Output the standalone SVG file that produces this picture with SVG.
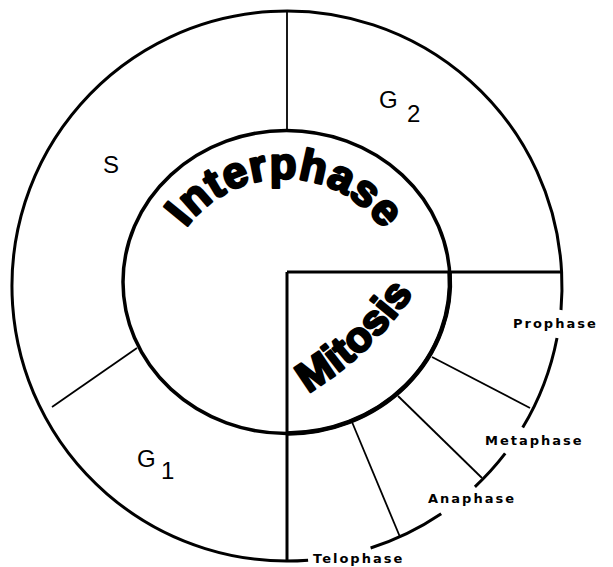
<svg xmlns="http://www.w3.org/2000/svg" width="613" height="567" viewBox="0 0 613 567">
  <style>
    .ring { fill: none; stroke: #000; stroke-width: 3; }
    .inner { fill: none; stroke: #000; stroke-width: 3.5; }
    .innerM { fill: none; stroke: #000; stroke-width: 4.5; }
    .div { stroke: #000; stroke-width: 1.8; fill: none; }
    .axis { stroke: #000; stroke-width: 3; fill: none; }
    .phase { font-family: "Liberation Sans", Arial, sans-serif; font-size: 24px; fill: #000; }
    .step { font-family: "DejaVu Sans", Verdana, sans-serif; font-weight: bold; font-size: 13px; letter-spacing: 2px; fill: #000; }
    .big { font-family: "Liberation Sans", Arial, sans-serif; font-weight: bold; fill: #000; stroke: #000; stroke-width: 2.5; stroke-linejoin: round; }
  </style>
  <defs>
    <path id="interPath" d="M 186 228 A 122 122 0 0 1 385 232"/>
    <path id="mitoPath" d="M 308 393 A 340 340 0 0 0 415 291"/>
  </defs>
  <rect width="613" height="567" fill="#fff"/>

  <g id="rings">
    <path class="ring" d="M 561.6 272 A 275 275 0 1 0 308.1 560.2"/>
    <path class="ring" d="M 561.6 272 A 275 275 0 0 1 561 310"/>
    <path class="ring" d="M 557 338 A 275 275 0 0 1 522.7 427.6"/>
    <path class="ring" d="M 505.2 453.4 A 275 275 0 0 1 474.9 486.8"/>
    <path class="ring" d="M 441.2 513.8 A 275 275 0 0 1 370.6 548"/>
    <ellipse class="inner" cx="286.5" cy="282" rx="163.5" ry="151.5"/>
    <path class="innerM" d="M 449.6 272 A 163.5 151.5 0 0 1 287 433.5"/>
  </g>

  <g id="connectors">
    <line class="div" x1="287" y1="11" x2="287" y2="130"/>
    <line class="div" x1="137" y1="348" x2="52" y2="407"/>
    <line class="div" x1="432" y1="357" x2="530" y2="408"/>
    <line class="div" x1="398" y1="396" x2="482" y2="478"/>
    <line class="div" x1="352" y1="422" x2="400" y2="537"/>
    <line class="axis" x1="287" y1="272" x2="561.6" y2="272"/>
    <line class="axis" x1="287" y1="272" x2="287" y2="562"/>
  </g>

  <g id="interphase">
    <text class="big" font-size="44"><textPath href="#interPath" textLength="230" lengthAdjust="spacing">Interphase</textPath></text>
  </g>
  <g id="mitosis">
    <text class="big" font-size="42"><textPath href="#mitoPath" textLength="146" lengthAdjust="spacing">Mitosis</textPath></text>
  </g>

  <g id="phase-S"><text class="phase" x="103" y="173">S</text></g>
  <g id="phase-G2"><text class="phase" x="379" y="108">G</text><text class="phase" x="407" y="122">2</text></g>
  <g id="phase-G1"><text class="phase" x="137" y="467">G</text><text class="phase" x="161" y="479">1</text></g>

  <g id="step-prophase"><text class="step" x="513" y="328">Prophase</text></g>
  <g id="step-metaphase"><text class="step" x="485" y="445">Metaphase</text></g>
  <g id="step-anaphase"><text class="step" x="428" y="503">Anaphase</text></g>
  <g id="step-telophase"><text class="step" x="313" y="563">Telophase</text></g>
</svg>
